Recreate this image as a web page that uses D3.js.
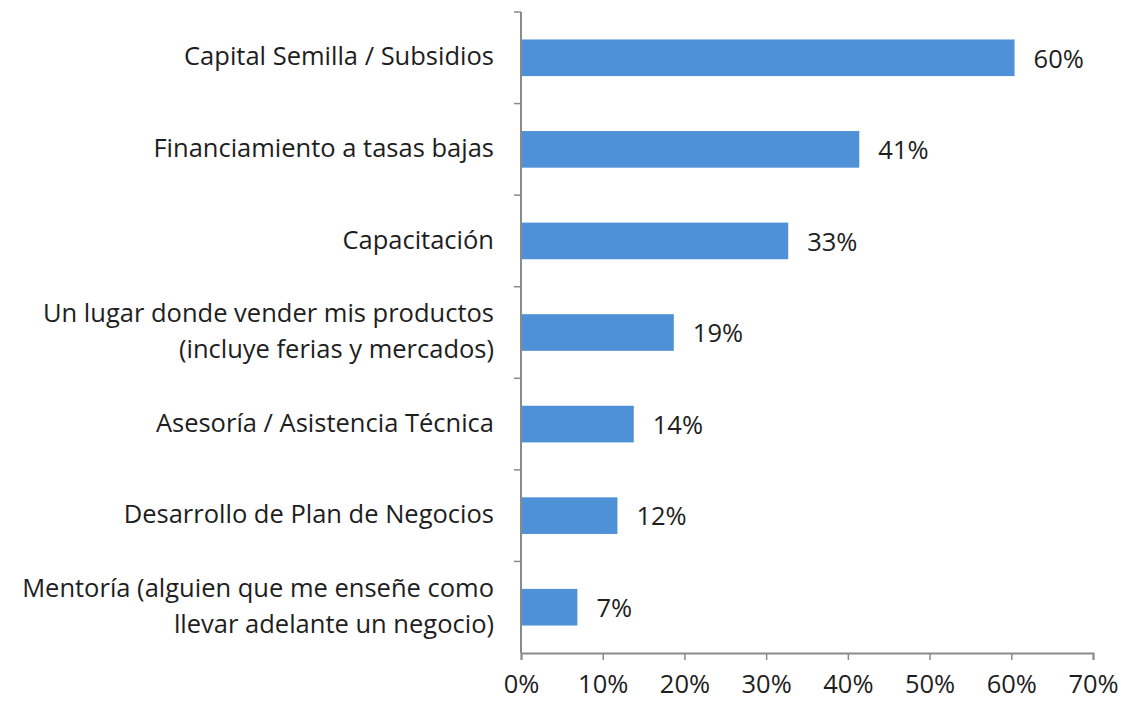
<!DOCTYPE html>
<html>
<head>
<meta charset="utf-8">
<script src="https://cdn.jsdelivr.net/npm/d3@7"></script>
<style>
  body { margin: 0; background: #fff; }
  svg text { font-family: "Open Sans", "Noto Sans", sans-serif; fill: #1e1e1e; }
</style>
</head>
<body>
<svg id="chart" width="1121" height="702"></svg>
<script>
const categories = [
  ["Capital Semilla / Subsidios"],
  ["Financiamiento a tasas bajas"],
  ["Capacitación"],
  ["Un lugar donde vender mis productos", "(incluye ferias y mercados)"],
  ["Asesoría / Asistencia Técnica"],
  ["Desarrollo de Plan de Negocios"],
  ["Mentoría (alguien que me enseñe como", "llevar adelante un negocio)"]
];
const values = [0.604, 0.414, 0.327, 0.187, 0.138, 0.118, 0.069];
const xTicks = [0, 0.1, 0.2, 0.3, 0.4, 0.5, 0.6, 0.7];

const svg = d3.select("#chart");
const plotLeft = 521, plotRight = 1093, plotTop = 12, plotBottom = 653;
const fontSize = 25.5;

const x = d3.scaleLinear().domain([0, 0.7]).range([plotLeft, plotRight]);
const y = d3.scaleBand().domain(d3.range(values.length)).range([plotTop, plotBottom]).paddingInner(0.6).paddingOuter(0.3);

const axisColor = "#8a8a8a";

// band boundary ticks on the vertical axis
const bandStep = (plotBottom - plotTop) / values.length;
svg.append("g").selectAll("line")
  .data(d3.range(values.length))
  .join("line")
  .attr("x1", plotLeft - 7).attr("x2", plotLeft)
  .attr("y1", d => plotTop + d * bandStep).attr("y2", d => plotTop + d * bandStep)
  .attr("stroke", axisColor).attr("stroke-width", 1.5);

svg.append("line")
  .attr("x1", plotLeft).attr("x2", plotLeft).attr("y1", plotTop).attr("y2", plotBottom)
  .attr("stroke", axisColor).attr("stroke-width", 2);

// x axis
const xAxis = svg.append("g")
  .attr("transform", `translate(0,${plotBottom})`)
  .call(d3.axisBottom(x).tickValues(xTicks).tickFormat(d3.format(".0%")).tickSize(7).tickPadding(15));
xAxis.select(".domain").attr("stroke", axisColor).attr("stroke-width", 2);
xAxis.selectAll(".tick line").attr("stroke", axisColor).attr("stroke-width", 1.5);
xAxis.selectAll(".tick text").attr("font-size", fontSize).attr("fill", "#1e1e1e")
  .attr("font-family", "'Open Sans', 'Noto Sans', sans-serif");

// bars
svg.append("g").selectAll("rect")
  .data(values)
  .join("rect")
  .attr("x", plotLeft + 1)
  .attr("y", (d, i) => y(i))
  .attr("width", d => x(d) - plotLeft - 1)
  .attr("height", y.bandwidth())
  .attr("fill", "#4f91d6");

// value labels
svg.append("g").selectAll("text")
  .data(values)
  .join("text")
  .attr("x", d => x(d) + 19)
  .attr("y", (d, i) => y(i) + y.bandwidth() / 2 + 3)
  .attr("dominant-baseline", "middle")
  .attr("font-size", fontSize)
  .text(d => d3.format(".0%")(d));

// category labels
const lab = svg.append("g").selectAll("text")
  .data(categories)
  .join("text")
  .attr("text-anchor", "end")
  .attr("font-size", fontSize)
  .attr("y", (d, i) => y(i) + y.bandwidth() / 2 - (d.length - 1) * 18);
lab.selectAll("tspan")
  .data(d => d)
  .join("tspan")
  .attr("x", 494)
  .attr("dy", (d, j) => j === 0 ? "0.3em" : 36)
  .text(d => d);
</script>
</body>
</html>
